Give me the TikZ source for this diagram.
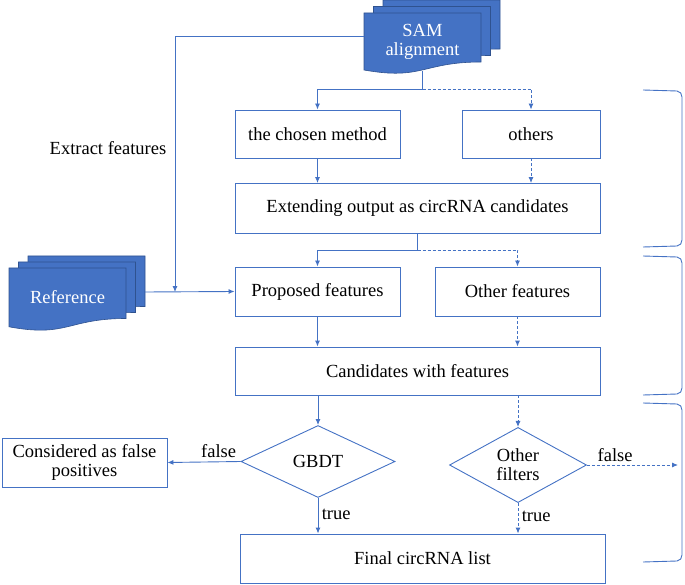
\documentclass[tikz,border=0pt]{standalone}
\usepackage{fontspec}
\setmainfont{Liberation Serif}
\newfontfamily\tnrfont{Liberation Serif}
\usepackage{tikz}
\usetikzlibrary{arrows.meta,shapes.geometric,positioning,calc}
\definecolor{offblue}{HTML}{4472C4}
\definecolor{offdark}{HTML}{2F528F}
\begin{document}
\begin{tikzpicture}[x=1pt,y=-1pt,
every node/.style={font=\tnrfont\fontsize{18.5}{21}\selectfont, text=black},
box/.style={draw=offblue, line width=0.9pt, inner sep=0pt, align=center},
dia/.style={draw=offblue, line width=0.9pt, shape=diamond, inner sep=0pt, align=center},
ln/.style={offblue, line width=0.9pt, -{Latex[length=6pt,width=5pt]}},
dsh/.style={ln, dash pattern=on 3pt off 2pt},
sheet/.style={fill=offblue, draw=offdark, line width=0.6pt},
brc/.style={offblue, line width=0.9pt}]
\useasboundingbox (0,0) rectangle (685,585);
% document stacks
\foreach \dx/\dy in {19/-13,9.5/-6.5,0/0}
  \filldraw[sheet, shift={(\dx,\dy)}] (364,13) -- (481,13) -- (481,62) .. controls (422.5,62) and (422.5,80.5) .. (364,70) -- cycle;
\foreach \dx/\dy in {19/-12,9.5/-6,0/0}
  \filldraw[sheet, shift={(\dx,\dy)}] (9,268) -- (126,268) -- (126,318.5) .. controls (67.5,318.5) and (67.5,337.7) .. (9,326.8) -- cycle;
\node[minimum width=117pt, minimum height=58pt, inner sep=0pt, align=center, text=white] (sam) at (422.5,42) {SAM\\[-2pt]alignment};
\node[minimum width=117pt, minimum height=58pt, inner sep=0pt, text=white] (ref) at (67.5,297) {Reference};
% boxes
\node[box, minimum width=165pt, minimum height=48pt] (chosen) at (317.5,134) {the chosen method};
\node[box, minimum width=138pt, minimum height=48pt] (others) at (531,134) {others};
\node[box, minimum width=365pt, minimum height=50pt] (extend) at (417.5,208.5) {Extending output as circRNA candidates};
\node[box, minimum width=165pt, minimum height=49pt] (prop) at (317.5,291.5) {Proposed features};
\node[box, minimum width=165pt, minimum height=49pt] (otherf) at (517.5,291.5) {Other features};
\node[box, minimum width=365pt, minimum height=48pt] (cand) at (417.5,371) {Candidates with features};
\node[dia, minimum width=154pt, minimum height=72pt] (gbdt) at (318,461.5) {GBDT};
\node[dia, minimum width=137pt, minimum height=74pt] (filt) at (518,465) {Other\\[-2pt]filters};
\node[box, minimum width=165pt, minimum height=49pt] (fp) at (84.5,462.5) {Considered as false\\[-2pt]positives};
\node[box, minimum width=365pt, minimum height=49pt] (final) at (422.5,558.5) {Final circRNA list};
\node (extr) at (108,148.5) {Extract features};
\coordinate (s1) at (422.5,89);
\coordinate (s2) at (417.5,250);
\coordinate (r1) at (145,292);
\coordinate (jn) at (175,292);
\coordinate (f2) at (678,465);
% connectors
\draw[ln] ([yshift=6pt]sam.west) -| (jn);
\draw[ln] (sam.south) -- (s1) -| (chosen.north);
\draw[dsh] (s1) -| (others.north);
\draw[ln] (chosen) -- (chosen |- extend.north);
\draw[dsh] (others) -- (others |- extend.north);
\draw[ln] (extend.south) -- (s2) -| (prop.north);
\draw[dsh] (s2) -| (otherf.north);
\draw[ln] (r1) -- (prop.west);
\draw[ln] (prop) -- (prop |- cand.north);
\draw[dsh] (otherf) -- (otherf |- cand.north);
\draw[ln] (gbdt |- cand.south) -- (gbdt.north);
\draw[dsh] (filt |- cand.south) -- (filt.north);
\draw[ln] (gbdt.west) -- node[above, pos=0.3]{false} (fp.east);
\draw[ln] (gbdt.south) -- node[right, pos=0.45]{true} (gbdt.south |- final.north);
\draw[dsh] (filt.south) -- node[right, pos=0.45]{true} (filt.south |- final.north);
\draw[dsh] (filt.east) -- node[above, pos=0.31]{false} (f2);
% braces
\foreach \ya/\yb in {90/247,256/395,403/562}
  \draw[brc] (643,\ya) -- (677,\ya+1) to[out=0,in=90] (682,\ya+7) -- (682,\yb-7) to[out=-90,in=0] (677,\yb-1) -- (643,\yb);
\end{tikzpicture}
\end{document}
